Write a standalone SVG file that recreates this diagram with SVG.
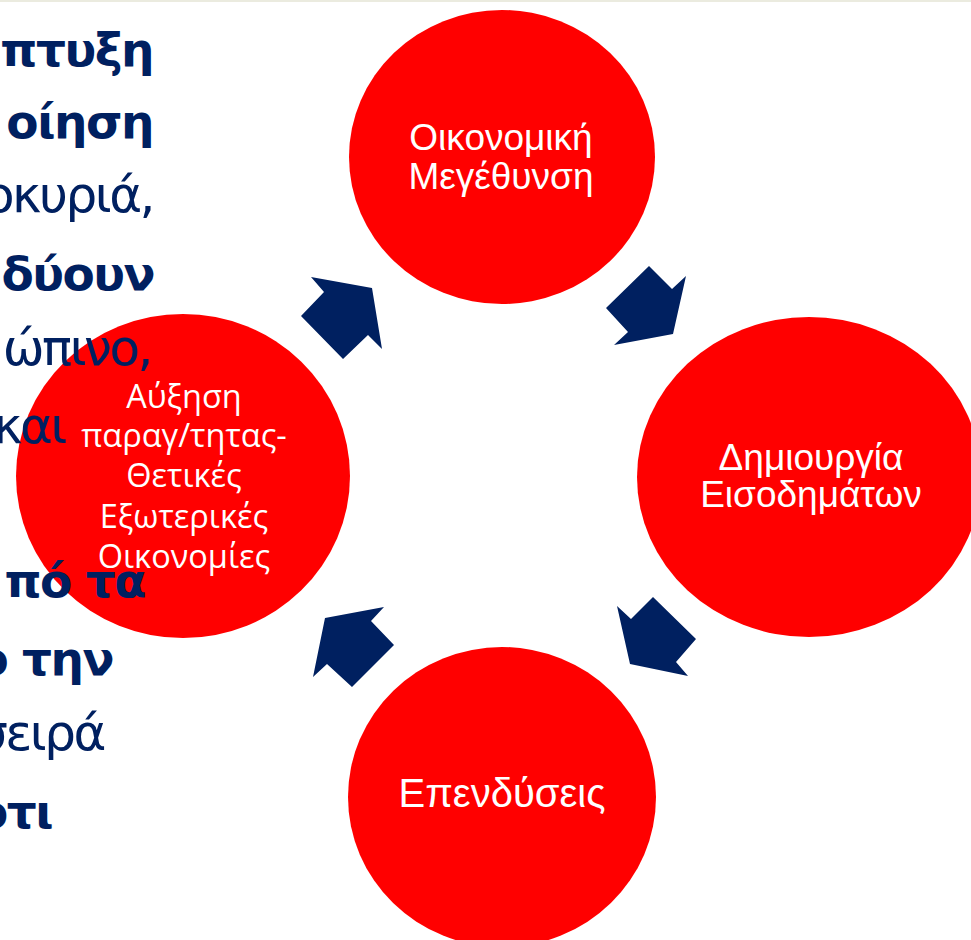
<svg xmlns="http://www.w3.org/2000/svg" width="971" height="940" viewBox="0 0 971 940">
<style>
.node{fill:#ff0000}
.lbl{fill:#ffffff;font-family:"Liberation Sans",Arial,sans-serif;font-size:37px;text-anchor:middle}
.lbl3{fill:#ffffff;font-family:"Liberation Sans",Arial,sans-serif;font-size:40px;text-anchor:middle}
.lbl2{fill:#ffffff;font-family:"Open Sans","Noto Sans",sans-serif;font-size:32.5px;text-anchor:middle}
.arrow{fill:#002060}
.bg{fill:#002060;font-family:"DejaVu Sans",Verdana,sans-serif;font-size:50px;letter-spacing:-2.5px;text-anchor:end}
.b{font-weight:bold;font-size:47px;letter-spacing:-1.5px}
</style>
<rect x="0" y="0" width="971" height="940" fill="#ffffff"/>
<rect x="0" y="0" width="971" height="2" fill="#ebebdf"/>
<g id="node-growth">
<ellipse class="node" cx="502" cy="157" rx="153" ry="147"/>
<text class="lbl" x="501" y="150">Οικονομική</text>
<text class="lbl" x="501" y="189">Μεγέθυνση</text>
</g>
<g id="node-income">
<ellipse class="node" cx="809" cy="477" rx="172" ry="160"/>
<text class="lbl" x="811" y="470">Δημιουργία</text>
<text class="lbl" x="811" y="507">Εισοδημάτων</text>
</g>
<g id="node-investment">
<ellipse class="node" cx="502" cy="797" rx="154" ry="150"/>
<text class="lbl3" x="502" y="807">Επενδύσεις</text>
</g>
<g id="node-productivity">
<ellipse class="node" cx="183" cy="476" rx="167" ry="162"/>
<text class="lbl2" x="184" y="408">Αύξηση</text>
<text class="lbl2" x="184" y="447">παραγ/τητας-</text>
<text class="lbl2" x="184" y="487">Θετικές</text>
<text class="lbl2" x="184" y="528">Εξωτερικές</text>
<text class="lbl2" x="184" y="568">Οικονομίες</text>
</g>
<g id="connectors">
<polygon class="arrow" points="311,277 324,292 301,316 343,359 368,335 382,349 372,288"/>
<polygon class="arrow" points="649,266 672,289 686,276 673,334 614,345 628,332 606,308"/>
<polygon class="arrow" points="653,597 696,639 676,662 688,676 630,664 617,606 631,619"/>
<polygon class="arrow" points="384,607 371,621 394,645 352,687 327,664 313,677 325,618"/>
</g>
<g id="slide-text">
<text class="bg b" x="153" y="66">πτυξη</text>
<text class="bg b" x="153" y="138">οίηση</text>
<text class="bg" x="153" y="212">οκυριά,</text>
<text class="bg b" x="154" y="290">δύουν</text>
<text class="bg" x="151" y="365">ώπινο,</text>
<text class="bg" x="65" y="443">και</text>
<text class="bg b" x="145" y="597">πό τα</text>
<text class="bg b" x="113" y="675">ο την</text>
<text class="bg" x="104" y="750">σειρά</text>
<text class="bg b" x="52" y="828">οτι</text>
</g>
</svg>
